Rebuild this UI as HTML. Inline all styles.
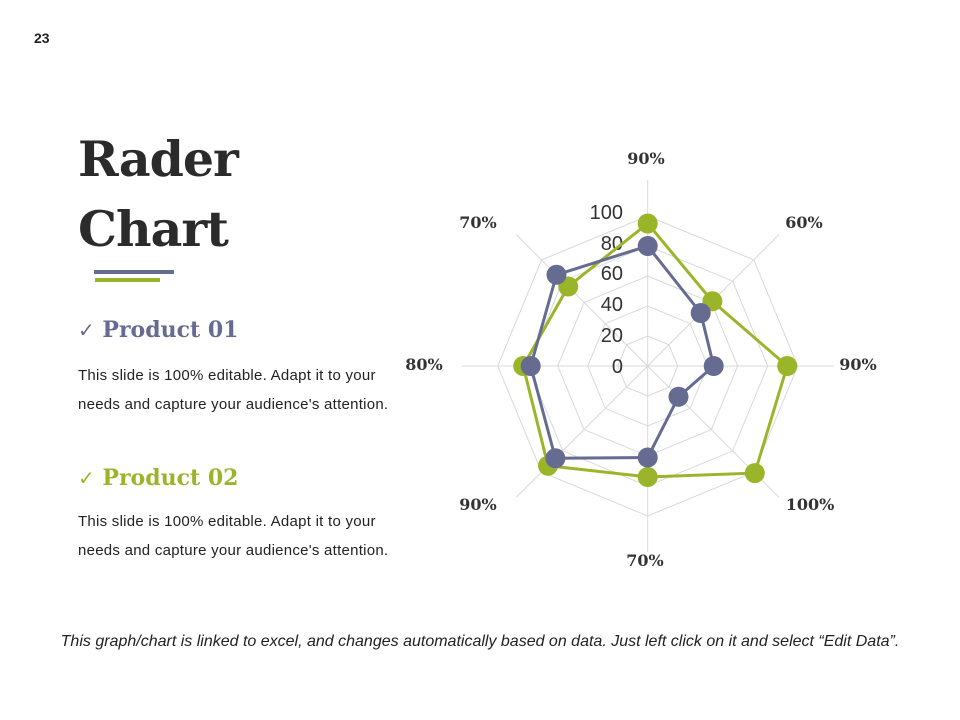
<!DOCTYPE html>
<html><head><meta charset="utf-8"><style>
body{margin:0;width:960px;height:720px;background:#fff;overflow:hidden;position:relative;font-family:"Liberation Sans",sans-serif}
.a{position:absolute;white-space:nowrap}
</style></head><body>
<div class="a" style="left:34px;top:30px;font-size:14px;font-weight:bold;color:#222">23</div>
<div class="a" style="left:78px;top:124px;font-family:'DejaVu Serif','Liberation Serif',serif;font-weight:bold;font-size:49px;line-height:70px;color:#2b2b2b;letter-spacing:-1px">Rader<br>Chart</div>
<div class="a" style="left:94px;top:270px;width:80px;height:4px;background:#666b92"></div>
<div class="a" style="left:95px;top:278px;width:65px;height:4px;background:#9bb52a"></div>
<div class="a" style="left:78px;top:317px;font-family:'DejaVu Serif',serif;font-weight:bold;font-size:22px;color:#666b92"><span style="font-family:'DejaVu Sans',sans-serif;font-weight:normal;font-size:20px">✓</span> Product 01</div>
<div class="a" style="left:78px;top:361px;font-size:15px;letter-spacing:0.26px;line-height:29px;color:#222">This slide is 100% editable. Adapt it to your<br>needs and capture your audience's attention.</div>
<div class="a" style="left:78px;top:465px;font-family:'DejaVu Serif',serif;font-weight:bold;font-size:22px;color:#9bb52a"><span style="font-family:'DejaVu Sans',sans-serif;font-weight:normal;font-size:20px">✓</span> Product 02</div>
<div class="a" style="left:78px;top:507px;font-size:15px;letter-spacing:0.26px;line-height:29px;color:#222">This slide is 100% editable. Adapt it to your<br>needs and capture your audience's attention.</div>
<div class="a" style="left:0;width:960px;text-align:center;top:633px;font-size:16px;font-style:italic;color:#222">This graph/chart is linked to excel, and changes automatically based on data. Just left click on it and select “Edit Data”.</div>
<svg class="a" style="left:0;top:0" width="960" height="720">
<g transform="translate(647.7,366)" fill="none" stroke="#d9d9d9" stroke-width="1">
<polygon points="0,-30 21.2,-21.2 30,0 21.2,21.2 0,30 -21.2,21.2 -30,0 -21.2,-21.2"/>
<polygon points="0,-60 42.4,-42.4 60,0 42.4,42.4 0,60 -42.4,42.4 -60,0 -42.4,-42.4"/>
<polygon points="0,-90 63.6,-63.6 90,0 63.6,63.6 0,90 -63.6,63.6 -90,0 -63.6,-63.6"/>
<polygon points="0,-120 84.9,-84.9 120,0 84.9,84.9 0,120 -84.9,84.9 -120,0 -84.9,-84.9"/>
<polygon points="0,-150 106.1,-106.1 150,0 106.1,106.1 0,150 -106.1,106.1 -150,0 -106.1,-106.1"/>
<path d="M0,0L0,-186M0,0L131.5,-131.5M0,0L186,0M0,0L131.5,131.5M0,0L0,186M0,0L-131.5,131.5M0,0L-186,0M0,0L-131.5,-131.5"/>
</g>
<g font-family="Liberation Sans,sans-serif" font-size="20" fill="#333" text-anchor="end">
<text x="623" y="219">100</text><text x="623" y="250">80</text><text x="623" y="280">60</text><text x="623" y="311">40</text><text x="623" y="342">20</text><text x="623" y="373">0</text>
</g>
<g transform="translate(647.7,366)">
<g stroke="#9bb52a" fill="#9bb52a" stroke-width="3">
<polygon fill="none" points="0,-142.5 64.7,-64.7 139.5,0 107.1,107.1 0,111 -99.7,99.7 -124.5,0 -79.5,-79.5"/>
<g stroke="none"><circle cx="0" cy="-142.5" r="10"/><circle cx="64.7" cy="-64.7" r="10"/><circle cx="139.5" cy="0" r="10"/><circle cx="107.1" cy="107.1" r="10"/><circle cx="0" cy="111" r="10"/><circle cx="-99.7" cy="99.7" r="10"/><circle cx="-124.5" cy="0" r="10"/><circle cx="-79.5" cy="-79.5" r="10"/></g>
</g>
<g stroke="#666b92" fill="#666b92" stroke-width="3">
<polygon fill="none" points="0,-120 53,-53 66,0 30.8,30.8 0,91.5 -92.3,92.3 -117,0 -91.2,-91.2"/>
<g stroke="none"><circle cx="0" cy="-120" r="10"/><circle cx="53" cy="-53" r="10"/><circle cx="66" cy="0" r="10"/><circle cx="30.8" cy="30.8" r="10"/><circle cx="0" cy="91.5" r="10"/><circle cx="-92.3" cy="92.3" r="10"/><circle cx="-117" cy="0" r="10"/><circle cx="-91.2" cy="-91.2" r="10"/></g>
</g>
</g>
<g font-family="DejaVu Serif,serif" font-weight="bold" font-size="16" fill="#333" text-anchor="middle">
<text x="646" y="164">90%</text><text x="804" y="228">60%</text><text x="858" y="370">90%</text><text x="810" y="510">100%</text><text x="645" y="566">70%</text><text x="478" y="510">90%</text><text x="424" y="370">80%</text><text x="478" y="228">70%</text>
</g>
</svg>
</body></html>
